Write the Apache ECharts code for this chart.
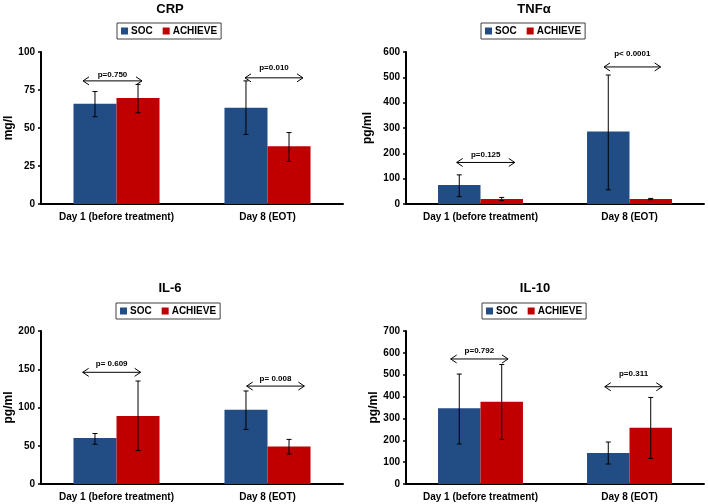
<!DOCTYPE html>
<html>
<head>
<meta charset="utf-8">
<script src="https://cdn.jsdelivr.net/npm/echarts@6/dist/echarts.min.js"></script>
<style>
html,body{margin:0;padding:0;background:#fff;}
#c{width:708px;height:504px;}
</style>
</head>
<body>
<div id="c"></div>
<script>
// ---- data ----
const categories = ['Day 1 (before treatment)', 'Day 8 (EOT)'];
const seriesNames = ['SOC', 'ACHIEVE'];

const crpSOC = [66, 63.4];
const crpACH = [69.7, 38];
const crpSOCErr = [[57.4, 74], [45.8, 81]];
const crpACHErr = [[60, 78.7], [28, 47]];
const crpP = ['p=0.750', 'p=0.010'];
const crpPLevel = [81, 83];

const tnfSOC = [75, 286];
const tnfACH = [20, 20];
const tnfSOCErr = [[29, 115], [56, 509]];
const tnfACHErr = [[13, 26], [17, 22]];
const tnfP = ['p=0.125', 'p< 0.0001'];
const tnfPLevel = [164, 541];

const il6SOC = [60, 97];
const il6ACH = [89, 49];
const il6SOCErr = [[52, 66], [71.4, 121.6]];
const il6ACHErr = [[43.5, 134.6], [39.2, 58.3]];
const il6P = ['p= 0.609', 'p= 0.008'];
const il6PLevel = [146, 128];

const il10SOC = [346, 142];
const il10ACH = [376.5, 257.5];
const il10SOCErr = [[183, 503], [91.5, 192]];
const il10ACHErr = [[204, 547], [117, 396]];
const il10P = ['p=0.792', 'p=0.311'];
const il10PLevel = [572, 445];

// ---- layout / style ----
const FONT = 'Liberation Sans, Arial, sans-serif';
const COL_SOC = '#214C84';
const COL_ACH = '#C00000';

const panels = [
  { title: 'CRP', unit: 'mg/l', soc: crpSOC, ach: crpACH, socErr: crpSOCErr, achErr: crpACHErr, p: crpP, pLevel: crpPLevel,
    max: 100, interval: 25, grid: { left: 41, top: 52, width: 302, height: 152 }, titleX: 170, titleY: 3,
    legendX: 117, legendY: 23, nameGap: 23, tickFont: 10,
    spans: [[-0.222, 0.169], [-0.149, 0.235]], textGap: [2, 6] },
  { title: 'TNFα', unit: 'pg/ml', soc: tnfSOC, ach: tnfACH, socErr: tnfSOCErr, achErr: tnfACHErr, p: tnfP, pLevel: tnfPLevel,
    max: 600, interval: 100, grid: { left: 406, top: 52, width: 298, height: 152 }, titleX: 534, titleY: 3,
    legendX: 481, legendY: 23, nameGap: 32, tickFont: 10,
    spans: [[-0.160, 0.230], [-0.171, 0.209]], textGap: [3.5, 9] },
  { title: 'IL-6', unit: 'pg/ml', soc: il6SOC, ach: il6ACH, socErr: il6SOCErr, achErr: il6ACHErr, p: il6P, pLevel: il6PLevel,
    max: 200, interval: 50, grid: { left: 41, top: 331, width: 302, height: 153 }, titleX: 170, titleY: 282,
    legendX: 116, legendY: 303, nameGap: 26, tickFont: 10,
    spans: [[-0.224, 0.160], [-0.138, 0.244]], textGap: [5, 3.5] },
  { title: 'IL-10', unit: 'pg/ml', soc: il10SOC, ach: il10ACH, socErr: il10SOCErr, achErr: il10ACHErr, p: il10P, pLevel: il10PLevel,
    max: 700, interval: 100, grid: { left: 406, top: 331, width: 298, height: 153 }, titleX: 535, titleY: 282,
    legendX: 482, legendY: 303, nameGap: 25, tickFont: 10,
    spans: [[-0.200, 0.185], [-0.166, 0.220]], textGap: [4, 8.5] }
];

const BAR_HALF_OFFSET = 0.1425; // bar centre offset, fraction of band

function errRender(sign) {
  return function (params, api) {
    const idx = api.value(0);
    const lo = api.coord([idx, api.value(1)]);
    const hi = api.coord([idx, api.value(2)]);
    const band = api.size([1, 0])[0];
    const x = lo[0] + sign * BAR_HALF_OFFSET * band;
    const cap = 2.5;
    const st = { stroke: '#000', lineWidth: 1 };
    return { type: 'group', children: [
      { type: 'line', shape: { x1: x, y1: lo[1], x2: x, y2: hi[1] }, style: st },
      { type: 'line', shape: { x1: x - cap, y1: lo[1], x2: x + cap, y2: lo[1] }, style: st },
      { type: 'line', shape: { x1: x - cap, y1: hi[1], x2: x + cap, y2: hi[1] }, style: st }
    ]};
  };
}

function arrowRender(panel) {
  return function (params, api) {
    const idx = api.value(0);
    const c = api.coord([idx, api.value(1)]);
    const band = api.size([1, 0])[0];
    const sp = panel.spans[params.dataIndex];
    const x1 = c[0] + sp[0] * band, x2 = c[0] + sp[1] * band, y = c[1];
    const st = { stroke: '#000', lineWidth: 1, fill: null };
    return { type: 'group', children: [
      { type: 'line', shape: { x1: x1, y1: y, x2: x2, y2: y }, style: st },
      { type: 'polyline', shape: { points: [[x1 + 6, y - 4], [x1, y], [x1 + 6, y + 4]] }, style: st },
      { type: 'polyline', shape: { points: [[x2 - 6, y - 4], [x2, y], [x2 - 6, y + 4]] }, style: st },
      { type: 'text', x: (x1 + x2) / 2, y: y - panel.textGap[params.dataIndex],
        style: { text: panel.p[params.dataIndex], align: 'center', verticalAlign: 'bottom',
                 fontSize: 8, fontWeight: 'bold', fontFamily: FONT, fill: '#000' } }
    ]};
  };
}

const option = {
  animation: false,
  backgroundColor: '#fff',
  title: [], legend: [], grid: [], xAxis: [], yAxis: [], series: []
};

panels.forEach(function (pn, i) {
  option.title.push({
    text: pn.title, left: pn.titleX, top: pn.titleY, textAlign: 'center', padding: 0,
    textStyle: { fontFamily: FONT, fontSize: 13, fontWeight: 'bold', color: '#000' }
  });
  option.legend.push({
    data: seriesNames, left: pn.legendX, top: pn.legendY, orient: 'horizontal',
    itemWidth: 7, itemHeight: 7, itemGap: 10, icon: 'rect', padding: [3, 4],
    borderColor: '#404040', borderWidth: 1,
    textStyle: { fontFamily: FONT, fontSize: 10, fontWeight: 'bold', color: '#000', padding: [0, 0, 0, -2] }
  });
  option.grid.push(Object.assign({ containLabel: false }, pn.grid));
  option.xAxis.push({
    type: 'category', gridIndex: i, data: categories,
    axisLine: { lineStyle: { color: '#000', width: 2 } },
    axisTick: { show: false },
    axisLabel: { fontFamily: FONT, fontSize: 10, fontWeight: 'bold', color: '#000', margin: 8, interval: 0 }
  });
  option.yAxis.push({
    type: 'value', gridIndex: i, min: 0, max: pn.max, interval: pn.interval,
    name: pn.unit, nameLocation: 'middle', nameRotate: 90, nameGap: pn.nameGap,
    nameTextStyle: { fontFamily: FONT, fontSize: 12, fontWeight: 'bold', color: '#000' },
    axisLine: { show: true, lineStyle: { color: '#000', width: 2 } },
    axisTick: { show: true, length: 3, lineStyle: { color: '#000', width: 1.5 } },
    axisLabel: { fontFamily: FONT, fontSize: pn.tickFont, fontWeight: 'bold', color: '#000', margin: 6 },
    splitLine: { show: false }
  });
  option.series.push({
    name: 'SOC', type: 'bar', xAxisIndex: i, yAxisIndex: i, data: pn.soc,
    barGap: '0%', barCategoryGap: '43%', itemStyle: { color: COL_SOC }, z: 2
  });
  option.series.push({
    name: 'ACHIEVE', type: 'bar', xAxisIndex: i, yAxisIndex: i, data: pn.ach,
    barGap: '0%', barCategoryGap: '43%', itemStyle: { color: COL_ACH }, z: 2
  });
  option.series.push({
    name: 'errSOC' + i, type: 'custom', xAxisIndex: i, yAxisIndex: i, z: 5, clip: false,
    renderItem: errRender(-1), encode: { x: 0, y: [1, 2] },
    data: pn.socErr.map(function (e, k) { return [k, e[0], e[1]]; })
  });
  option.series.push({
    name: 'errACH' + i, type: 'custom', xAxisIndex: i, yAxisIndex: i, z: 5, clip: false,
    renderItem: errRender(1), encode: { x: 0, y: [1, 2] },
    data: pn.achErr.map(function (e, k) { return [k, e[0], e[1]]; })
  });
  option.series.push({
    name: 'pval' + i, type: 'custom', xAxisIndex: i, yAxisIndex: i, z: 6, clip: false,
    renderItem: arrowRender(pn), encode: { x: 0, y: 1 },
    data: pn.pLevel.map(function (v, k) { return [k, v]; })
  });
});

const chart = echarts.init(document.getElementById('c'), null, { renderer: 'canvas' });
chart.setOption(option);
</script>
</body>
</html>
